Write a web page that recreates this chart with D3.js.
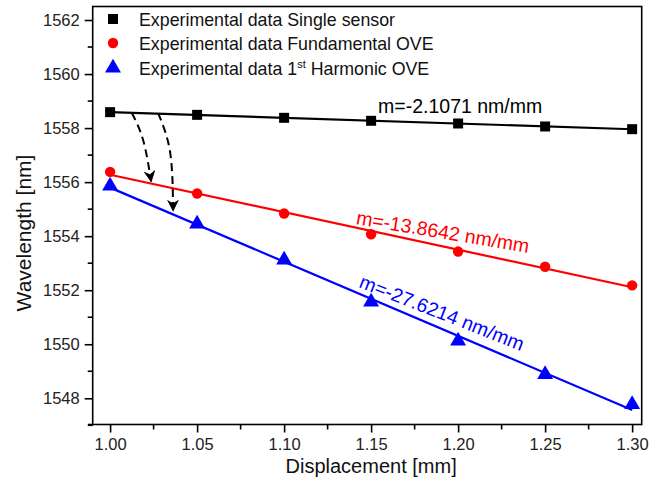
<!DOCTYPE html>
<html><head><meta charset="utf-8">
<script src="https://cdn.jsdelivr.net/npm/d3@7"></script>
<style>
body{margin:0;background:#fff}
svg{display:block;font-family:"Liberation Sans",Arial,Helvetica,sans-serif}
</style>
</head><body>
<svg id="chart" width="668" height="477"></svg>
<script>
// ---- data ----
const displacement   = [1.00, 1.05, 1.10, 1.15, 1.20, 1.25, 1.30];
const singleSensor   = [1558.59, 1558.49, 1558.38, 1558.27, 1558.17, 1558.06, 1557.96];
const fundamentalOVE = [1556.38, 1555.58, 1554.84, 1554.07, 1553.43, 1552.87, 1552.18];
const harmonicOVE    = [1555.86, 1554.45, 1553.12, 1551.57, 1550.12, 1548.88, 1547.77];
const seriesNames    = ["Experimental data Single sensor", "Experimental data Fundamental OVE", "Experimental data 1", "Harmonic OVE"];
const slopeLabels    = ["m=-2.1071 nm/mm", "m=-13.8642 nm/mm", "m=-27.6214 nm/mm"];
const xTicks = [1.00, 1.05, 1.10, 1.15, 1.20, 1.25, 1.30];
const yTicks = [1548, 1550, 1552, 1554, 1556, 1558, 1560, 1562];
// annotation anchors in data units
const labelAnchors = [[1.154, 1558.56], [1.141, 1554.45], [1.1425, 1552.12]];
const labelAngles  = [0, 9.5, 21.5];
const arrow1 = [[1.0125, 1558.56], [1.019, 1557.55], [1.0236, 1556.03]];
const arrow2 = [[1.0276, 1558.55], [1.0345, 1557.1], [1.0362, 1554.95]];

const svg = d3.select("#chart");
const L = 92.7, R = 641.7, T = 6.5, B = 424.5;
const x = d3.scaleLinear().domain([0.99, 1.3055]).range([L, R]);
const y = d3.scaleLinear().domain([1547.03, 1562.5]).range([B, T]);

const colors = ["#000000", "#ff0000", "#0000ff"];
const data = [singleSensor, fundamentalOVE, harmonicOVE];

// frame
svg.append("rect").attr("x", L).attr("y", T).attr("width", R - L).attr("height", B - T)
  .attr("fill", "none").attr("stroke", "#000").attr("stroke-width", 1.6);
svg.append("line").attr("x1", 88).attr("x2", L).attr("y1", B).attr("y2", B).attr("stroke", "#000").attr("stroke-width", 1.6);

// axes
const xAxis = d3.axisBottom(x).tickValues(xTicks).tickFormat(d3.format(".2f")).tickSize(8).tickPadding(6);
const gx = svg.append("g").attr("transform", `translate(0,${B})`).call(xAxis);
gx.select(".domain").remove();
gx.selectAll(".tick line").attr("stroke-width", 1.6);
gx.selectAll("text").attr("font-size", 16.5).attr("fill", "#222").attr("font-family", "Liberation Sans, Arial, sans-serif");
const xMinor = d3.range(0, 6).map(i => 1.025 + i * 0.05);
svg.append("g").selectAll("line").data(xMinor).join("line")
  .attr("x1", d => x(d)).attr("x2", d => x(d)).attr("y1", B).attr("y2", B + 5)
  .attr("stroke", "#000").attr("stroke-width", 1.6);

const yAxis = d3.axisLeft(y).tickValues(yTicks).tickFormat(d3.format("d")).tickSize(8).tickPadding(5);
const gy = svg.append("g").attr("transform", `translate(${L},0)`).call(yAxis);
gy.select(".domain").remove();
gy.selectAll(".tick line").attr("stroke-width", 1.6);
gy.selectAll("text").attr("font-size", 16.5).attr("fill", "#222").attr("font-family", "Liberation Sans, Arial, sans-serif");
const yMinor = d3.range(1547, 1562, 2);
svg.append("g").selectAll("line").data(yMinor).join("line")
  .attr("x1", L - 5).attr("x2", L).attr("y1", d => y(d)).attr("y2", d => y(d))
  .attr("stroke", "#000").attr("stroke-width", 1.6);

// axis titles
svg.append("text").attr("x", (x(1.0) + x(1.3)) / 2).attr("y", 473).attr("text-anchor", "middle")
  .attr("font-size", 20).attr("fill", "#111").text("Displacement [mm]");
svg.append("text").attr("transform", `translate(31,233) rotate(-90)`).attr("text-anchor", "middle")
  .attr("font-size", 21).attr("fill", "#111").text("Wavelength [nm]");

// linear fits
function fit(xs, ys) {
  const mx = d3.mean(xs), my = d3.mean(ys);
  const s = d3.sum(xs, (v, i) => (v - mx) * (ys[i] - my)) / d3.sum(xs, v => (v - mx) ** 2);
  return v => my + s * (v - mx);
}
data.forEach((ys, k) => {
  const f = fit(displacement, ys);
  const x0 = displacement[0], x1 = displacement[displacement.length - 1];
  svg.append("line").attr("x1", x(x0)).attr("y1", y(f(x0))).attr("x2", x(x1)).attr("y2", y(f(x1)))
    .attr("stroke", colors[k]).attr("stroke-width", 2.2);
});

// markers
const symbols = [d3.symbolSquare, d3.symbolCircle, d3.symbolTriangle];
const sizes = [100, 85, 110];
data.forEach((ys, k) => {
  svg.append("g").selectAll("path").data(ys).join("path")
    .attr("transform", (d, i) => `translate(${x(displacement[i])},${y(d)})`)
    .attr("d", d3.symbol().type(symbols[k]).size(sizes[k]))
    .attr("fill", colors[k]);
});

// slope labels
labelAnchors.forEach((a, k) => {
  svg.append("text").attr("transform", `translate(${x(a[0])},${y(a[1])}) rotate(${labelAngles[k]})`)
    .attr("font-size", 19.5).attr("fill", colors[k]).text(slopeLabels[k]);
});

// dashed arrows
const defs = svg.append("defs");
defs.append("marker").attr("id", "ah").attr("viewBox", "0 0 10 10").attr("refX", 9).attr("refY", 5)
  .attr("markerWidth", 6).attr("markerHeight", 6).attr("orient", "auto").attr("markerUnits", "strokeWidth")
  .append("path").attr("d", "M0,0 L10,5 L0,10 L3,5 Z").attr("fill", "#000");
const curve = d3.line().x(d => x(d[0])).y(d => y(d[1])).curve(d3.curveNatural);
[arrow1, arrow2].forEach(a => {
  svg.append("path").attr("d", curve(a)).attr("fill", "none").attr("stroke", "#000")
    .attr("stroke-width", 2).attr("stroke-dasharray", "8,5").attr("marker-end", "url(#ah)");
});

// legend
const legendY = [19, 43, 68];
const lg = svg.append("g");
[0, 1, 2].forEach(k => {
  lg.append("path").attr("transform", `translate(113,${legendY[k]})`)
    .attr("d", d3.symbol().type(symbols[k]).size(sizes[k])).attr("fill", colors[k]);
});
lg.append("text").attr("x", 139).attr("y", legendY[0] + 6.5).attr("font-size", 17.8).attr("fill", "#111").text(seriesNames[0]);
lg.append("text").attr("x", 139).attr("y", legendY[1] + 6.5).attr("font-size", 17.8).attr("fill", "#111").text(seriesNames[1]);
const t3 = lg.append("text").attr("x", 139).attr("y", legendY[2] + 6.5).attr("font-size", 17.8).attr("fill", "#111");
t3.append("tspan").text(seriesNames[2]);
t3.append("tspan").attr("font-size", 11).attr("dy", -7).text("st");
t3.append("tspan").attr("dy", 7).text(" " + seriesNames[3]);
</script>
</body></html>
